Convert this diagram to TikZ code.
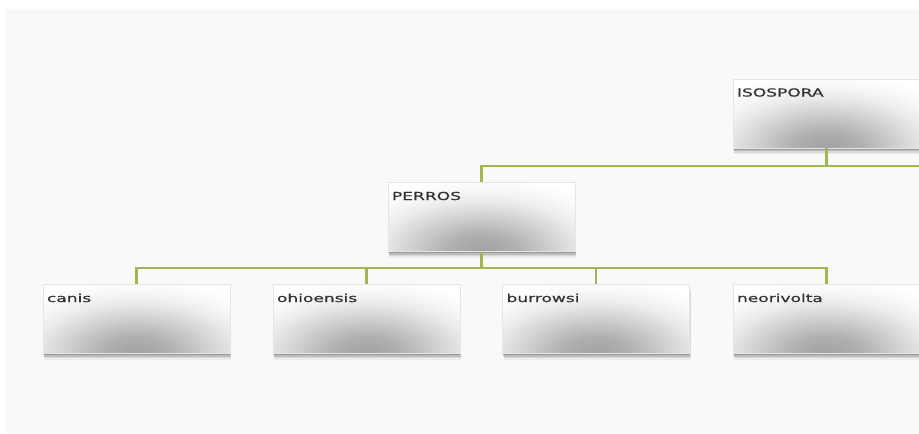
\documentclass[tikz,border=0pt]{standalone}
\usepackage{fontspec}
\newfontfamily\boxfont[FakeStretch=1.55,FakeBold=0.6]{DejaVu Sans}
\usetikzlibrary{shadows,calc}
\pgfdeclareradialshading{boxshade}{\pgfpoint{0bp}{0bp}}{color(0bp)=(gray!74); color(5bp)=(gray!62); color(10bp)=(gray!38); color(15bp)=(gray!15); color(19bp)=(gray!4); color(22bp)=(white); color(50bp)=(white)}
\definecolor{linkgreen}{RGB}{160,182,80}
\definecolor{bgpaper}{RGB}{249,249,249}
\definecolor{txt}{RGB}{50,50,50}
\begin{document}
\begin{tikzpicture}[x=1pt,y=-1pt,
  taxbox/.style={rectangle, fill=white, draw=black!10, line width=0.4pt,
    text width=179pt, inner xsep=4pt, inner ysep=2pt,
    text height=15.5pt, text depth=49.5pt, align=left,
    font=\boxfont\fontsize{11}{13}\selectfont, text=txt,
    general shadow={fill=black, opacity=.18, shadow yshift=-1.5pt},
    general shadow={fill=black, opacity=.13, shadow yshift=-3pt, shadow xshift=.5pt},
    general shadow={fill=black, opacity=.08, shadow yshift=-4.5pt, shadow xshift=1pt},
    general shadow={fill=black, opacity=.05, shadow yshift=-6pt, shadow xshift=1pt},
    path picture={\shade[shading=boxshade] (path picture bounding box.south) ellipse [x radius=172pt, y radius=86pt];}},
  link/.style={draw=linkgreen, line width=2.2pt}]
\useasboundingbox (0,0) rectangle (919,434);
\clip (0,0) rectangle (919,434);
\fill[bgpaper] (5,9) rectangle (919,433);

\node[taxbox] (iso) at (826.5,113.5) {ISOSPORA};
\node[taxbox] (perros) at (481.5,217) {PERROS};
\node[taxbox] (canis) at (136.5,319) {canis};
\node[taxbox] (ohio) at (366.5,319) {ohioensis};
\node[taxbox] (burr) at (596,319) {burrowsi};
\node[taxbox] (neo) at (826.5,319) {neorivolta};

\coordinate (busA) at (919,166);
\coordinate (busB) at (481.5,268);

\draw[link] (iso.south) |- (busA);
\draw[link] (perros.north) |- (busA);
\draw[link] (perros.south) -- (busB);
\draw[link] (busB) -| (canis.north);
\draw[link] (busB) -| (ohio.north);
\draw[link] (busB) -| (burr.north);
\draw[link] (busB) -| (neo.north);
\end{tikzpicture}
\end{document}
